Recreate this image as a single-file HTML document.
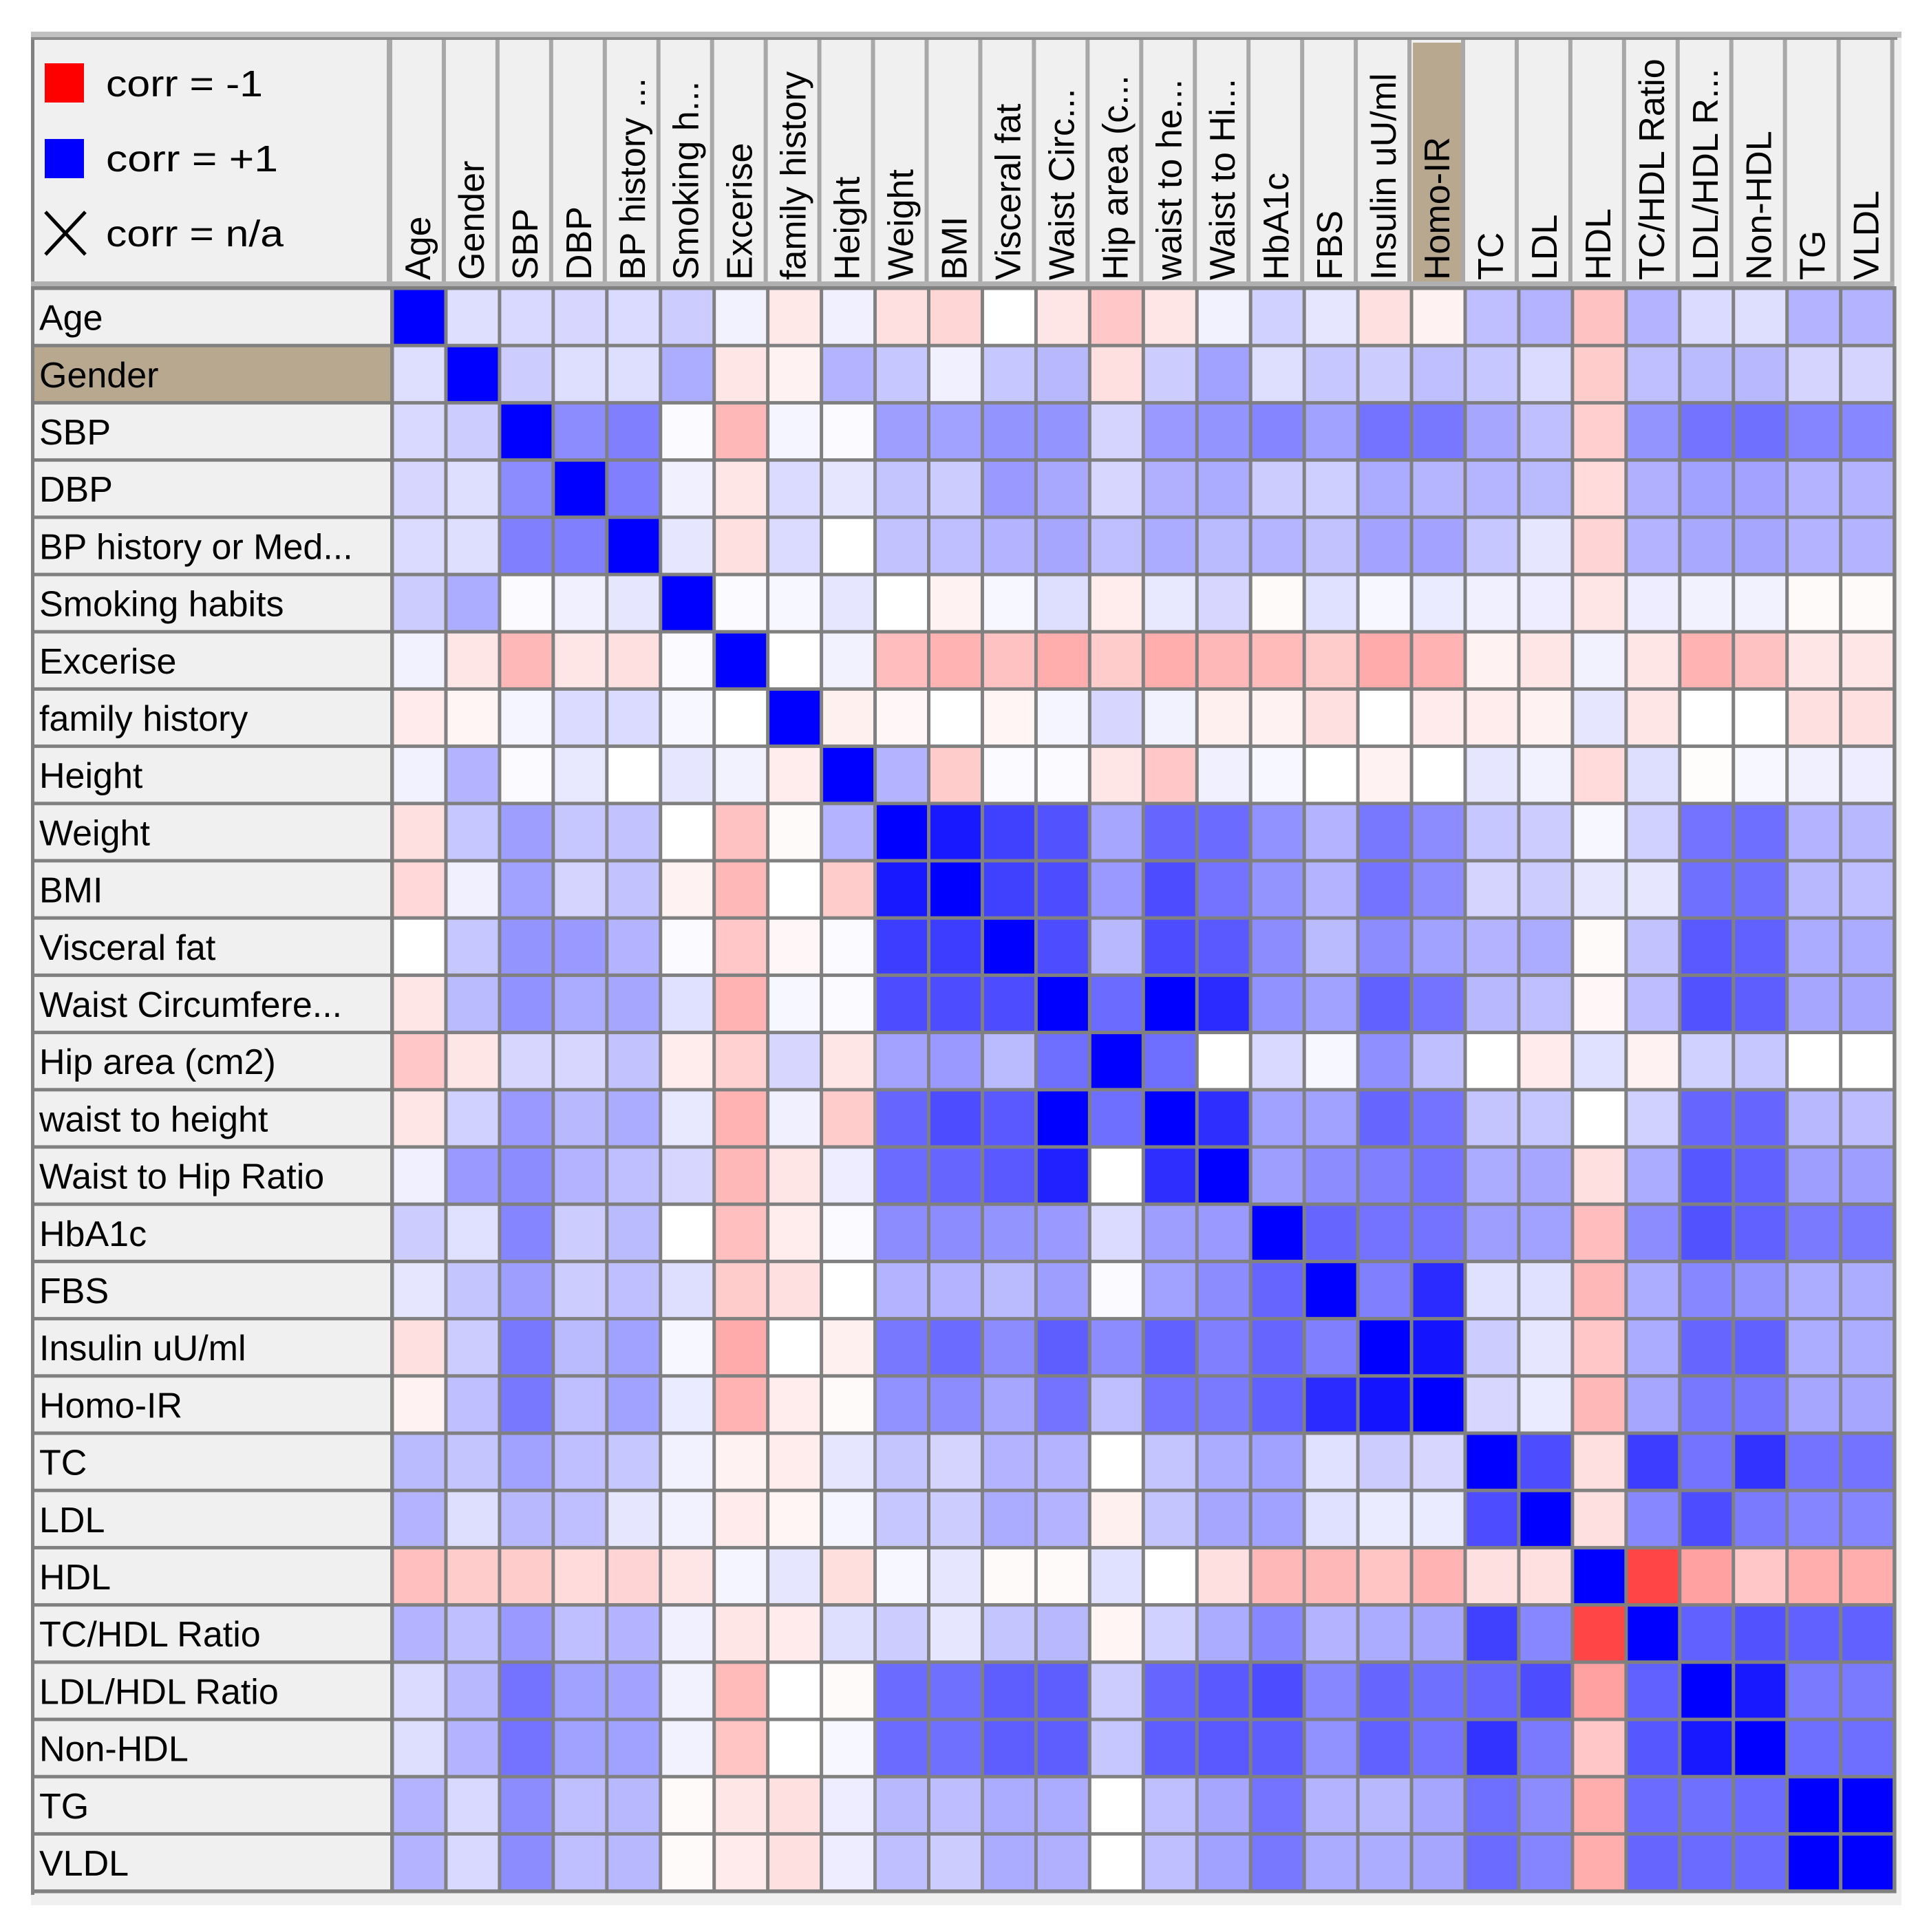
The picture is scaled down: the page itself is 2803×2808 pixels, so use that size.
<!DOCTYPE html>
<html><head><meta charset="utf-8"><style>
html,body{margin:0;padding:0;background:#fff;width:2803px;height:2808px;overflow:hidden}
svg text{font-family:"Liberation Sans",sans-serif;fill:#000}
</style></head><body>
<svg id="chart" xmlns="http://www.w3.org/2000/svg" width="2803" height="2808" viewBox="0 0 2803 2808">
<rect x="45" y="46" width="2718" height="2723" fill="#f0f0f0"/>
<rect x="45" y="46" width="2718" height="9" fill="#c0c0c0"/>
<rect x="45" y="54" width="5" height="2700" fill="#808080"/>
<rect x="45" y="54" width="2712" height="4" fill="#8a8a8a"/>
<g id="legend">
  <rect x="65" y="92" width="57" height="57" fill="#ff0000"/>
  <text x="154" y="122" font-size="54" dominant-baseline="central" textLength="228" lengthAdjust="spacingAndGlyphs">corr = -1</text>
  <rect x="65" y="202" width="57" height="57" fill="#0000ff"/>
  <text x="154" y="231" font-size="54" dominant-baseline="central" textLength="250" lengthAdjust="spacingAndGlyphs">corr = +1</text>
  <path d="M66 308 L124 370 M124 308 L66 370" stroke="#000" stroke-width="5"/>
  <text x="154" y="340" font-size="54" dominant-baseline="central" textLength="258" lengthAdjust="spacingAndGlyphs">corr = n/a</text>
</g>
<g id="header"></g>
<g id="cells"></g>
<g id="rows"></g>
</svg>
<script>
const rowLabels = ["Age","Gender","SBP","DBP","BP history or Med...","Smoking habits","Excerise","family history","Height","Weight","BMI","Visceral fat","Waist Circumfere...","Hip area (cm2)","waist to height","Waist to Hip Ratio","HbA1c","FBS","Insulin uU/ml","Homo-IR","TC","LDL","HDL","TC/HDL Ratio","LDL/HDL Ratio","Non-HDL","TG","VLDL"];
const colLabels = ["Age","Gender","SBP","DBP","BP history ...","Smoking h...","Excerise","family history","Height","Weight","BMI","Visceral fat","Waist Circ...","Hip area (c...","waist to he...","Waist to Hi...","HbA1c","FBS","Insulin uU/ml","Homo-IR","TC","LDL","HDL","TC/HDL Ratio","LDL/HDL R...","Non-HDL","TG","VLDL"];
const highlightRow = 1;
const highlightCol = 19;
const corrRow0 = [1,.13,.15,.16,.14,.2,.05,-.09,.06,-.12,-.16,0,-.1,-.22,-.1,.05,.18,.1,-.12,-.05,.25,.3,-.24,.3,.14,.13,.3,.3];
const corrRow1 = [.13,1,.2,.13,.13,.32,-.1,-.05,.3,.22,.06,.22,.28,-.12,.2,.37,.13,.22,.2,.25,.22,.14,-.2,.25,.27,.28,.17,.17];
const corrRow2 = [.15,.2,1,.45,.5,.02,-.28,.04,.02,.38,.37,.42,.42,.17,.4,.42,.48,.37,.55,.53,.35,.25,-.19,.42,.55,.56,.48,.47];
const corrRow3 = [.16,.13,.45,1,.5,.06,-.1,.14,.1,.23,.2,.4,.34,.16,.31,.33,.2,.19,.33,.29,.29,.27,-.14,.31,.37,.36,.3,.3];
const corrRow4 = [.14,.13,.5,.5,1,.1,-.12,.14,0,.24,.25,.3,.35,.25,.33,.27,.29,.24,.36,.36,.22,.1,-.17,.3,.34,.35,.3,.3];
const corrRow5 = [.2,.32,.02,.06,.1,1,.02,.03,.1,0,-.05,.03,.13,-.07,.09,.16,-.02,.12,.03,.08,.06,.07,-.1,.07,.05,.05,-.02,-.02];
const corrRow6 = [.05,-.1,-.28,-.1,-.12,.02,1,0,.05,-.26,-.3,-.24,-.32,-.2,-.32,-.28,-.27,-.2,-.33,-.3,-.05,-.1,.05,-.1,-.3,-.24,-.1,-.1];
const corrRow7 = [-.08,-.04,.04,.14,.14,.03,0,1,-.06,-.03,0,-.04,.04,.16,.05,-.06,-.05,-.12,0,-.08,-.07,-.05,.1,-.1,0,0,-.12,-.12];
const corrRow8 = [.05,.3,.02,.09,0,.1,.05,-.07,1,.3,-.2,.02,.02,-.1,-.22,.06,.03,0,-.05,0,.1,.05,-.14,.13,-.01,.03,.06,.07];
const corrRow9 = [-.12,.22,.38,.22,.24,0,-.24,-.02,.3,1,.9,.75,.68,.35,.6,.58,.43,.3,.53,.45,.22,.2,.03,.18,.55,.57,.3,.28];
const corrRow10 = [-.15,.06,.37,.17,.24,-.05,-.28,0,-.2,.9,1,.75,.7,.4,.7,.55,.42,.3,.55,.45,.17,.2,.1,.1,.56,.56,.28,.25];
const corrRow11 = [0,.22,.42,.4,.3,.02,-.22,-.03,.02,.76,.76,1,.7,.28,.7,.65,.45,.27,.45,.37,.3,.33,-.02,.24,.65,.62,.33,.33];
const corrRow12 = [-.1,.27,.43,.33,.35,.12,-.3,.03,.02,.7,.7,.7,1,.58,1,.83,.43,.37,.62,.55,.28,.25,-.03,.26,.68,.63,.35,.35];
const corrRow13 = [-.22,-.1,.16,.16,.24,-.07,-.18,.16,-.1,.36,.4,.27,.57,1,.57,0,.15,.03,.44,.25,0,-.08,.12,-.05,.18,.22,0,0];
const corrRow14 = [-.1,.18,.4,.28,.33,.09,-.3,.06,-.2,.6,.7,.65,1,.57,1,.82,.37,.37,.6,.55,.23,.22,0,.18,.6,.6,.28,.26];
const corrRow15 = [.06,.4,.45,.3,.25,.16,-.28,-.1,.07,.58,.6,.65,.87,0,.82,1,.38,.45,.5,.55,.33,.35,-.12,.33,.66,.62,.38,.38];
const corrRow16 = [.2,.12,.48,.2,.27,0,-.25,-.07,.02,.45,.45,.42,.4,.14,.38,.4,1,.6,.55,.55,.38,.37,-.26,.45,.68,.62,.52,.52];
const corrRow17 = [.1,.23,.38,.2,.25,.13,-.2,-.12,0,.3,.3,.27,.38,.02,.37,.45,.6,1,.5,.83,.12,.12,-.28,.32,.47,.42,.32,.32];
const corrRow18 = [-.12,.2,.53,.27,.37,.03,-.33,0,-.06,.53,.58,.45,.63,.45,.62,.5,.6,.5,1,.92,.2,.1,-.22,.33,.6,.62,.32,.32];
const corrRow19 = [-.05,.25,.53,.25,.37,.08,-.3,-.07,-.02,.43,.45,.35,.55,.25,.55,.52,.62,.83,.92,1,.16,.08,-.28,.35,.53,.53,.35,.35];
const corrRow20 = [.27,.23,.37,.25,.22,.05,-.05,-.07,.1,.23,.17,.3,.3,0,.23,.33,.37,.12,.2,.16,1,.7,-.12,.76,.55,.8,.55,.55];
const corrRow21 = [.3,.13,.28,.25,.1,.05,-.08,-.04,.04,.22,.2,.33,.3,-.06,.23,.35,.37,.12,.08,.08,.7,1,-.12,.47,.7,.52,.48,.48];
const corrRow22 = [-.25,-.2,-.2,-.14,-.17,-.1,.04,.1,-.13,.03,.1,-.02,-.02,.12,0,-.12,-.28,-.28,-.23,-.3,-.12,-.12,1,-.73,-.37,-.22,-.32,-.32];
const corrRow23 = [.3,.25,.4,.25,.3,.06,-.1,-.08,.13,.2,.1,.23,.28,-.04,.18,.33,.47,.3,.33,.35,.75,.47,-.73,1,.62,.68,.62,.62];
const corrRow24 = [.14,.28,.55,.37,.36,.05,-.27,0,-.02,.58,.56,.63,.63,.2,.6,.65,.7,.47,.6,.56,.6,.7,-.37,.62,1,.9,.52,.52];
const corrRow25 = [.13,.3,.55,.37,.37,.05,-.23,0,.03,.58,.56,.63,.63,.22,.63,.65,.63,.43,.62,.55,.8,.52,-.22,.66,.9,1,.57,.57];
const corrRow26 = [.3,.15,.45,.25,.28,-.02,-.1,-.12,.07,.28,.26,.33,.33,0,.25,.35,.55,.3,.28,.35,.57,.45,-.32,.58,.56,.58,1,1];
const corrRow27 = [.3,.15,.45,.25,.28,-.02,-.08,-.12,.07,.25,.2,.33,.31,0,.25,.37,.53,.33,.32,.35,.58,.48,-.32,.6,.58,.58,1,1];
const corrRows = [corrRow0,corrRow1,corrRow2,corrRow3,corrRow4,corrRow5,corrRow6,corrRow7,corrRow8,corrRow9,corrRow10,corrRow11,corrRow12,corrRow13,corrRow14,corrRow15,corrRow16,corrRow17,corrRow18,corrRow19,corrRow20,corrRow21,corrRow22,corrRow23,corrRow24,corrRow25,corrRow26,corrRow27];

const NS = "http://www.w3.org/2000/svg";
const X0 = 570, Y0 = 419, CW = 77.95, RH = 83.2, LX = 45;
const n = colLabels.length;
function xScale(j){ return X0 + j*CW; }
function yScale(i){ return Y0 + i*RH; }
function color(v){
  const t = Math.min(1, Math.abs(v));
  const c = Math.round(255*(1-t));
  return v >= 0 ? `rgb(${c},${c},255)` : `rgb(255,${c},${c})`;
}
function mk(tag, attrs, parent){
  const e = document.createElementNS(NS, tag);
  for (const k in attrs) e.setAttribute(k, attrs[k]);
  parent.appendChild(e); return e;
}
const header = document.getElementById('header');
const rowsG = document.getElementById('rows');
const cellsG = document.getElementById('cells');
const gridRight = xScale(n), gridBottom = yScale(rowLabels.length);

let sep0 = mk('rect', {x: X0-8, y: 58, width: 8, height: Y0-58, fill: '#a8a8a8'}, header);


colLabels.forEach((lab, j) => {
  const x = xScale(j);
  if (j === highlightCol) {
    const hb = mk('rect', {x: x+2, y: 62, width: CW-6, height: Y0-70, fill: '#b8a890'}, header);
    
    
  }
  const s = mk('rect', {x: x+CW-6, y: 58, width: 6, height: Y0-58, fill: '#a8a8a8'}, header);
  
  
  const cx = x + CW/2 - 1;
  const t = mk('text', {x: 0, y: 0, 'font-size': 52, 'dominant-baseline': 'central', transform: `translate(${cx},${Y0-12}) rotate(-90)`}, header);
  t.textContent = lab;
  
  
});
const hb2 = mk('rect', {x: LX, y: Y0-10, width: gridRight-LX, height: 10, fill: '#b0b0b0'}, header);



const gbg = mk('rect', {x: LX, y: Y0-3, width: gridRight-LX+3, height: gridBottom-Y0+6, fill: '#808080'}, cellsG);



corrRows.forEach((row, i) => {
  row.forEach((v, j) => {
    const c = mk('rect', {x: xScale(j)+2.5, y: yScale(i)+2.5, width: CW-5, height: RH-5, fill: color(v)}, cellsG);
    
    
  });
});

rowLabels.forEach((lab, i) => {
  const y = yScale(i);
  const r = mk('rect', {x: LX+5, y: y+2.5, width: X0-LX-8, height: RH-5, fill: i === highlightRow ? '#b8a890' : '#f0f0f0'}, rowsG);
  
  
  const t = mk('text', {x: 57, y: y + RH/2 + 2, 'font-size': 52, 'dominant-baseline': 'central'}, rowsG);
  t.textContent = lab;
  
  
});
</script>
</body></html>
